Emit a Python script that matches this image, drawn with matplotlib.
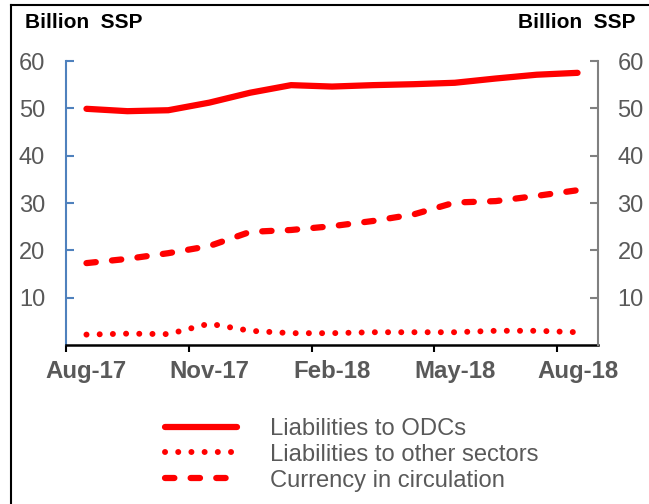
import numpy as np
import matplotlib.pyplot as plt
from matplotlib.lines import Line2D

plt.rcParams['font.family'] = ['Liberation Sans', 'DejaVu Sans']

# monthly observations, Aug-17 .. Aug-18 (billion SSP)
months = ["Aug-17", "Sep-17", "Oct-17", "Nov-17", "Dec-17", "Jan-18", "Feb-18",
          "Mar-18", "Apr-18", "May-18", "Jun-18", "Jul-18", "Aug-18"]
odcs = [49.9, 49.4, 49.6, 51.2, 53.3, 54.9, 54.6, 54.9, 55.1, 55.4, 56.3, 57.1, 57.5]
other = [2.2, 2.4, 2.3, 4.5, 3.0, 2.5, 2.5, 2.7, 2.7, 2.7, 3.0, 3.0, 2.7]
currency = [17.3, 18.2, 19.4, 20.9, 23.9, 24.3, 25.1, 26.2, 27.6, 30.1, 30.4, 31.5, 32.7]

tick_labels = ["Aug-17", "Nov-17", "Feb-18", "May-18", "Aug-18"]
y_ticks = [10, 20, 30, 40, 50, 60]

GRAY = '#595959'
RED = '#FF0000'

fig = plt.figure(figsize=(6.49, 5.04), dpi=100)
ax = fig.add_axes([66/649, 1-345/504, (598-66)/649, (345-61)/504])

x = np.arange(len(months)) + 0.5
ax.plot(x, odcs, color=RED, lw=4.5, solid_capstyle='round', label='Liabilities to ODCs')
ax.plot(x, other, color=RED, lw=4.3, linestyle=(0, (0.01, 2.2)), dash_capstyle='round',
        label='Liabilities to other sectors')
ax.plot(x, currency, color=RED, lw=4.5, linestyle=(0, (1.5, 2.6)), dash_capstyle='round',
        label='Currency in circulation')

ax.set_xlim(0, 13)
ax.set_ylim(0, 60)
# tick marks on quarter boundaries, labels centred on the month
ax.set_xticks([0, 3, 6, 9, 12])
ax.set_xticklabels([])
ax.set_xticks(x[::3], minor=True)
ax.set_xticklabels(tick_labels, minor=True, fontsize=17.3, fontweight='bold', color=GRAY)
ax.set_yticks(y_ticks)
ax.set_yticklabels([str(v) for v in y_ticks], fontsize=17, color=GRAY)

ax.tick_params(axis='x', which='major', direction='out', length=5, width=1.5, color='black')
ax.tick_params(axis='x', which='minor', length=0, pad=11)
ax.tick_params(axis='y', direction='in', length=6, width=1.5, color='#4F81BD', pad=15)

for s in ['top', 'right']:
    ax.spines[s].set_visible(False)
ax.spines['left'].set_color('#4F81BD')
ax.spines['left'].set_linewidth(1.5)
ax.spines['bottom'].set_color('black')
ax.spines['bottom'].set_linewidth(1.8)

ax2 = ax.twinx()
ax2.set_ylim(0, 60)
ax2.set_yticks(y_ticks)
ax2.set_yticklabels([str(v) for v in y_ticks], fontsize=17, color=GRAY)
ax2.tick_params(axis='y', direction='in', length=6, width=1.5, color='#808080', pad=14)
for s in ['top', 'left', 'bottom']:
    ax2.spines[s].set_visible(False)
ax2.spines['right'].set_color('#808080')
ax2.spines['right'].set_linewidth(1.5)

fig.text(25/649, 1-22/504, 'Billion  SSP', fontsize=15, fontweight='bold',
         ha='left', va='center', color='black')
fig.text(636/649, 1-22/504, 'Billion  SSP', fontsize=15, fontweight='bold',
         ha='right', va='center', color='black')

handles, labels = ax.get_legend_handles_labels()
leg = fig.legend(handles, labels, loc='upper left', bbox_to_anchor=(165/649, 1-418/504),
                 frameon=False, fontsize=17.1, handlelength=3.03, handletextpad=1.39,
                 labelspacing=0.16, borderpad=0, borderaxespad=0)
for t in leg.get_texts():
    t.set_color(GRAY)

# outer frame (left and top edges visible)
fig.add_artist(Line2D([11/649, 11/649], [0, 1-5/504], color='black', lw=1.5,
                      transform=fig.transFigure))
fig.add_artist(Line2D([11/649, 1], [1-5/504, 1-5/504], color='black', lw=1.5,
                      transform=fig.transFigure))

fig.savefig('out.png', dpi=100)
